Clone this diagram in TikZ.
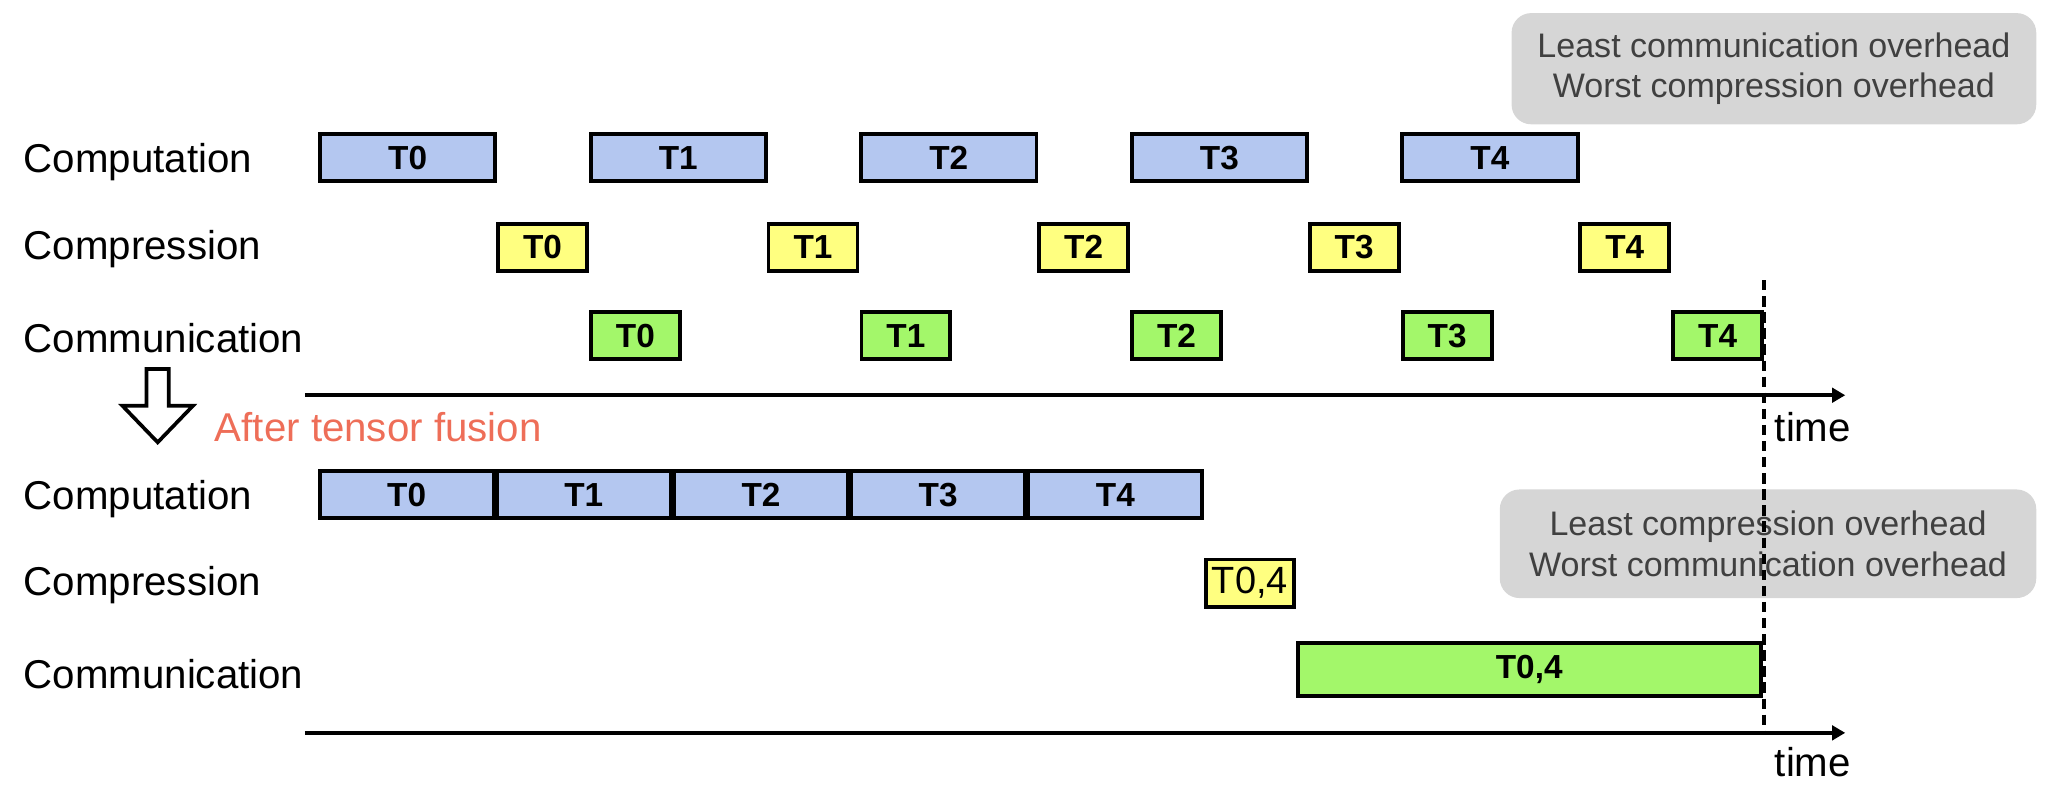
\documentclass[tikz,border=0pt]{standalone}
\usepackage{fontspec}
\setmainfont{Liberation Sans}
\usetikzlibrary{positioning,arrows.meta}

\definecolor{compblue}{HTML}{B4C7F0}
\definecolor{zipyellow}{HTML}{FFFF80}
\definecolor{commgreen}{HTML}{A3F76A}
\definecolor{notegray}{HTML}{D6D6D6}
\definecolor{notetext}{HTML}{404040}
\definecolor{fusionred}{HTML}{EE6E58}

\begin{document}
\begin{tikzpicture}[x=0.02cm, y=-0.02cm, every node/.style={font=\fontsize{17.5}{20}\selectfont}]
    \tikzset{task/.style={rectangle, draw, line width=1.7pt, inner sep=0pt, font=\fontsize{14.5}{16}\selectfont\bfseries}}
    \tikzset{comp/.style={task, fill=compblue, minimum width=2.68cm, minimum height=0.72cm}}
    \tikzset{zip/.style={task, fill=zipyellow, minimum width=1.36cm, minimum height=0.72cm}}
    \tikzset{comm/.style={task, fill=commgreen, minimum width=1.36cm, minimum height=0.72cm}}
    \tikzset{note/.style={rectangle, fill=notegray, rounded corners=0.3cm, text=notetext, align=center, font=\fontsize{14.8}{17.5}\selectfont}}
    \tikzset{axis/.style={draw, line width=1.6pt, -{Triangle[length=0.2cm, width=0.22cm]}}}

    \useasboundingbox (0,0) rectangle (1568,602);

    % before fusion
    \node [anchor=west] (lcp) at (12,124) {Computation};
    \node [anchor=west] (lzp) at (12,190) {Compression};
    \node [anchor=west] (lcm) at (12,258) {Communication};
    \foreach \i in {0,...,4} {
        \node [comp] (cp\i) at (311.5+206.75*\i,120.5) {T\i};
        \node [zip] (zp\i) at (414.5+206.75*\i,189) {T\i};
        \node [comm] (cm\i) at (485.5+206.75*\i,256.5) {T\i};
    }
    \node [note, minimum width=8.02cm, minimum height=1.7cm] (note1) at (1355.5,52.5) {Least communication overhead\\Worst compression overhead};

    \coordinate (a1s) at (233,302);
    \coordinate (a1e) at (1410,302);
    \path [axis] (a1s) -- (a1e);
    \node [anchor=west] (time1) at (1350,326) {time};

    % after fusion
    \draw [line width=1.6pt, line join=miter] (112,282) -- (129,282) -- (129,310) -- (147.5,310) -- (120.5,338) -- (93.5,310) -- (112,310) -- cycle;
    \node [anchor=west, text=fusionred] (fuse) at (158,326) {After tensor fusion};

    \node [anchor=west] (lcp2) at (12,381) {Computation};
    \node [anchor=west] (lzp2) at (12,447) {Compression};
    \node [anchor=west] (lcm2) at (12,515) {Communication};
    \foreach \i in {0,...,4} {
        \node [comp, minimum width=2.66cm] (fp\i) at (310.7+135.4*\i,378) {T\i};
    }
    \node [zip, minimum width=1.34cm, font=\fontsize{16.5}{18}\selectfont] (fz) at (955,445.5) {T0,4};
    \node [comm, minimum width=7.08cm, minimum height=0.82cm] (fc) at (1168.5,511.5) {T0,4};
    \node [note, minimum width=8.2cm, minimum height=1.66cm] (note2) at (1351,415.5) {Least compression overhead\\Worst communication overhead};

    \coordinate (a2s) at (233,560);
    \coordinate (a2e) at (1410,560);
    \path [axis] (a2s) -- (a2e);
    \node [anchor=west] (time2) at (1350,582) {time};

    \coordinate (dtop) at (cm4.east |- 0,214);
    \draw [line width=1.7pt, dash pattern=on 4.5pt off 2.5pt] (dtop) -- (dtop |- a2s);
\end{tikzpicture}
\end{document}
